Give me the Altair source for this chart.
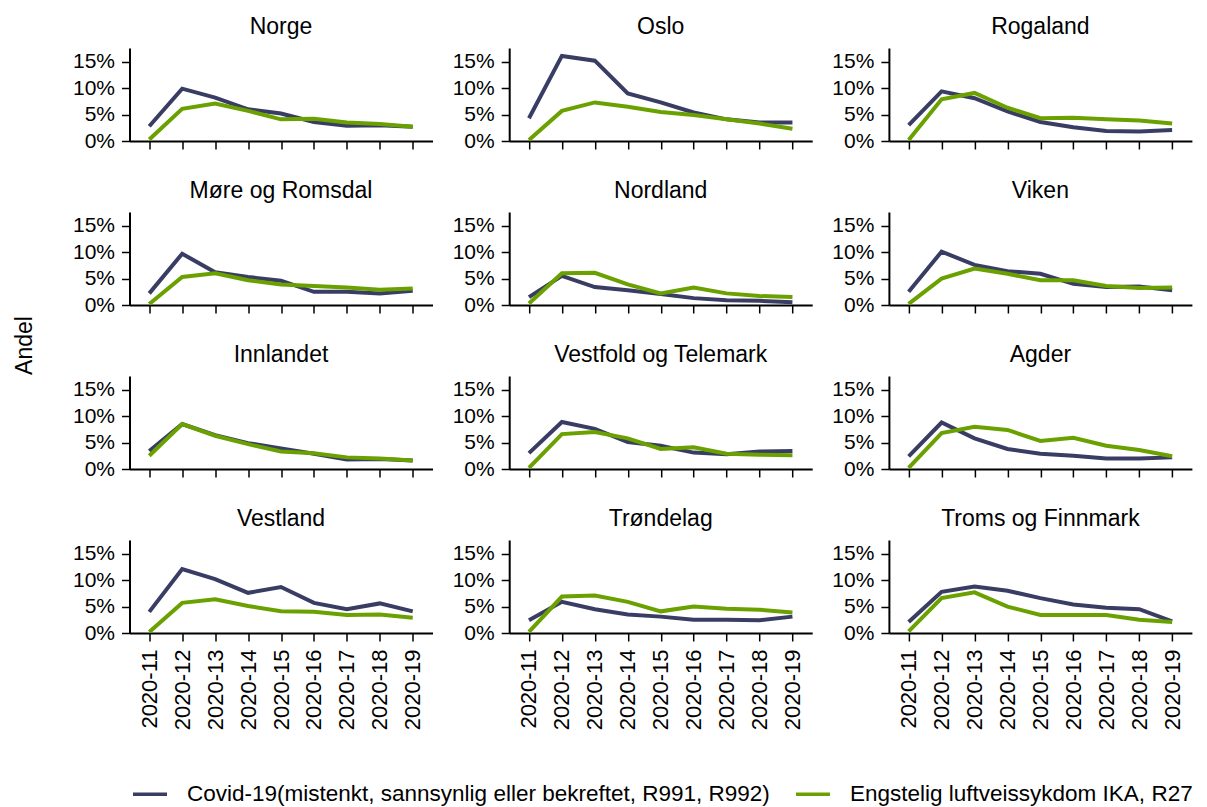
import altair as alt
import pandas as pd

weeks = ["2020-11", "2020-12", "2020-13", "2020-14", "2020-15",
         "2020-16", "2020-17", "2020-18", "2020-19"]

regions = ["Norge", "Oslo", "Rogaland",
           "Møre og Romsdal", "Nordland", "Viken",
           "Innlandet", "Vestfold og Telemark", "Agder",
           "Vestland", "Trøndelag", "Troms og Finnmark"]

series = ["Covid-19(mistenkt, sannsynlig eller bekreftet, R991, R992)",
          "Engstelig luftveissykdom IKA, R27"]

# percent values per week 11..19
covid = {
    "Norge": [2.8, 9.9, 8.2, 6.0, 5.2, 3.6, 2.9, 3.0, 2.7],
    "Oslo": [4.3, 16.1, 15.2, 9.0, 7.3, 5.4, 4.1, 3.5, 3.5],
    "Rogaland": [3.0, 9.4, 8.1, 5.6, 3.6, 2.6, 1.9, 1.8, 2.1],
    "Møre og Romsdal": [2.2, 9.7, 6.2, 5.3, 4.6, 2.5, 2.5, 2.2, 2.7],
    "Nordland": [1.5, 5.5, 3.4, 2.8, 2.1, 1.3, 0.9, 0.8, 0.5],
    "Viken": [2.5, 10.1, 7.6, 6.4, 5.9, 4.0, 3.4, 3.5, 2.8],
    "Innlandet": [3.4, 8.5, 6.4, 4.9, 3.9, 2.9, 1.8, 1.9, 1.6],
    "Vestfold og Telemark": [3.0, 8.9, 7.6, 5.1, 4.4, 3.1, 2.8, 3.3, 3.4],
    "Agder": [2.4, 8.8, 5.8, 3.8, 2.9, 2.5, 2.0, 2.0, 2.2],
    "Vestland": [4.0, 12.1, 10.2, 7.6, 8.7, 5.7, 4.5, 5.6, 4.1],
    "Trøndelag": [2.4, 5.9, 4.5, 3.5, 3.1, 2.5, 2.5, 2.4, 3.1],
    "Troms og Finnmark": [2.1, 7.8, 8.8, 8.0, 6.6, 5.4, 4.8, 4.5, 2.2],
}

ika = {
    "Norge": [0.3, 6.1, 7.1, 5.7, 4.1, 4.2, 3.5, 3.2, 2.7],
    "Oslo": [0.2, 5.7, 7.3, 6.5, 5.5, 4.9, 4.1, 3.3, 2.3],
    "Rogaland": [0.2, 7.9, 9.1, 6.3, 4.3, 4.4, 4.1, 3.9, 3.3],
    "Møre og Romsdal": [0.2, 5.3, 6.0, 4.7, 3.9, 3.6, 3.3, 2.9, 3.1],
    "Nordland": [0.3, 6.0, 6.1, 3.9, 2.2, 3.3, 2.2, 1.7, 1.5],
    "Viken": [0.2, 5.0, 6.9, 5.9, 4.7, 4.7, 3.6, 3.2, 3.3],
    "Innlandet": [2.5, 8.5, 6.3, 4.7, 3.3, 3.0, 2.2, 2.0, 1.6],
    "Vestfold og Telemark": [0.2, 6.6, 7.0, 5.8, 3.8, 4.1, 2.9, 2.7, 2.6],
    "Agder": [0.2, 6.8, 8.0, 7.4, 5.3, 5.9, 4.4, 3.6, 2.4],
    "Vestland": [0.2, 5.7, 6.4, 5.1, 4.1, 4.0, 3.4, 3.5, 2.9],
    "Trøndelag": [0.2, 6.9, 7.1, 5.9, 4.1, 5.0, 4.6, 4.4, 3.9],
    "Troms og Finnmark": [0.3, 6.6, 7.7, 5.0, 3.4, 3.4, 3.4, 2.5, 2.1],
}

rows = []
for r in regions:
    for s, src in zip(series, [covid, ika]):
        for w, v in zip(weeks, src[r]):
            rows.append({"region": r, "week": w, "series": s, "value": v / 100})
df = pd.DataFrame(rows)

FONT = "Liberation Sans"
NAVY = "#3A3D63"
GREEN = "#6AA100"
PW, PH = 303, 93
ROWGAP, COLGAP = 71, 76.7


def panel(region, bottom):
    return (
        alt.Chart(df)
        .transform_filter(alt.datum.region == region)
        .mark_line(strokeWidth=4)
        .encode(
            x=alt.X("week:N", sort=weeks,
                    scale=alt.Scale(domain=weeks, padding=0.6),
                    axis=alt.Axis(title=None, labels=bottom, labelAngle=270,
                                  labelAlign="right", labelBaseline="middle",
                                  labelFontSize=22, labelPadding=8)),
            y=alt.Y("value:Q",
                    scale=alt.Scale(domain=[0, 0.176], nice=False, zero=True),
                    axis=alt.Axis(title=None, values=[0, 0.05, 0.10, 0.15],
                                  format=".0%", labelFontSize=21,
                                  labelPadding=7)),
            color=alt.Color("series:N",
                            scale=alt.Scale(domain=series, range=[NAVY, GREEN]),
                            legend=alt.Legend(title=None)),
            detail="series:N",
        )
        .properties(width=PW, height=PH,
                    title=alt.Title(region, fontSize=23, fontWeight="normal",
                                    font=FONT, color="black", anchor="middle",
                                    frame="group", offset=9))
    )


GH = 4 * PH + 3 * ROWGAP
grid = alt.ConcatChart(
    concat=[panel(r, i >= 9) for i, r in enumerate(regions)],
    columns=3,
    spacing={"row": ROWGAP, "column": COLGAP},
    bounds="flush",
)

andel = (
    alt.Chart(pd.DataFrame({"t": ["Andel"]}))
    .mark_text(angle=270, fontSize=23, font=FONT, color="black",
               baseline="middle", align="center")
    .encode(text="t:N", x=alt.value(12), y=alt.value(GH / 2 + 5))
    .properties(width=20, height=GH)
)

chart = (
    alt.HConcatChart(hconcat=[andel, grid], spacing=96.5, bounds="flush")
    .properties(padding={"left": 5, "top": 7, "right": 0, "bottom": 0})
    .configure_view(stroke=None)
    .configure_axis(
        grid=False, domainColor="black", domainWidth=2, tickColor="black",
        tickWidth=1.5, tickSize=8, labelFont=FONT, labelColor="black",
    )
    .configure_legend(
        orient="none", legendX=118, legendY=727, direction="horizontal",
        symbolType="stroke", symbolStrokeWidth=3.5, symbolSize=1156,
        labelFontSize=22.5, labelFont=FONT, labelColor="black",
        labelLimit=0, columnPadding=19, labelOffset=18,
    )
)

chart.save("out.html", embed_options={"renderer": "svg", "actions": False})
